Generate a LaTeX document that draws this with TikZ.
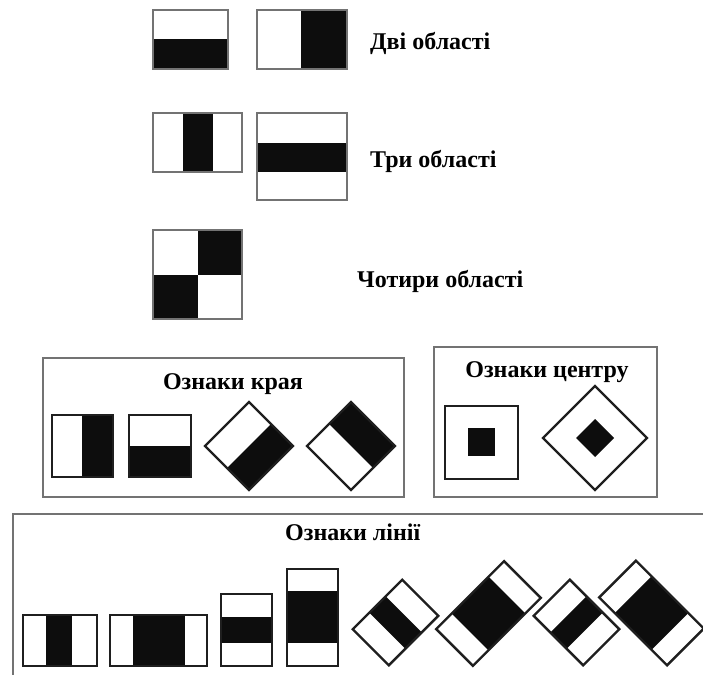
\documentclass[tikz,border=0pt]{standalone}
\usepackage{fontspec}
\setmainfont{Liberation Serif}
\begin{document}
\begin{tikzpicture}[x=1pt,y=-1pt,line join=miter,
  thin box/.style={draw=black!55,line width=1.4pt},
  feat/.style={draw=black!88,line width=2.4pt},
  frame/.style={draw=black!55,line width=1.4pt},
  blk/.style={fill=black!95},
  lab/.style={font=\fontsize{24}{28}\selectfont\bfseries,inner sep=0pt}]
\useasboundingbox (0,0) rectangle (703,674);
\clip (0,0) rectangle (703,674);
% ---------- row 1
\fill[blk] (153,39) rectangle (228,69);
\draw[thin box] (153,10) rectangle (228,69);
\fill[blk] (301,10) rectangle (347,69);
\draw[thin box] (257,10) rectangle (347,69);
\node[lab,anchor=base west] (two) at (370,50) {Дві області};
% ---------- row 2
\fill[blk] (183,113) rectangle (213,172);
\draw[thin box] (153,113) rectangle (242,172);
\fill[blk] (257,143) rectangle (347,172);
\draw[thin box] (257,113) rectangle (347,200);
\node[lab,anchor=base west] (three) at (370,167) {Три області};
% ---------- row 3
\fill[blk] (198,230) rectangle (242,275);
\fill[blk] (153,275) rectangle (198,319);
\draw[thin box] (153,230) rectangle (242,319);
\node[lab,anchor=base west] (four) at (357,287) {Чотири області};
% ---------- edge features
\draw[frame] (43,358) rectangle (404,497);
\node[lab,anchor=base] (edge) at (233,389) {Ознаки края};
\fill[blk] (82,415) rectangle (113,477);
\draw[feat] (52,415) rectangle (113,477);
\fill[blk] (129,446) rectangle (191,477);
\draw[feat] (129,415) rectangle (191,477);
\fill[blk] (227,468) -- (271,424) -- (293,446) -- (249,490) -- cycle;
\draw[feat] (205,446) -- (249,402) -- (293,446) -- (249,490) -- cycle;
\fill[blk] (329,424) -- (351,402) -- (395,446) -- (373,468) -- cycle;
\draw[feat] (307,446) -- (351,402) -- (395,446) -- (351,490) -- cycle;
% ---------- centre features
\draw[frame] (434,347) rectangle (657,497);
\node[lab,anchor=base] (centre) at (547,377) {Ознаки центру};
\fill[blk] (468,428) rectangle (495,456);
\draw[feat] (445,406) rectangle (518,479);
\fill[blk] (576,438) -- (595,419) -- (614,438) -- (595,457) -- cycle;
\draw[feat] (543,438) -- (595,386) -- (647,438) -- (595,490) -- cycle;
% ---------- line features
\draw[frame] (13,680) -- (13,514) -- (710,514);
\node[lab,anchor=base west] (line) at (285,540) {Ознаки лінії};
\fill[blk] (46,615) rectangle (72,666);
\draw[feat] (23,615) rectangle (97,666);
\fill[blk] (133,615) rectangle (185,666);
\draw[feat] (110,615) rectangle (207,666);
\fill[blk] (221,617) rectangle (272,643);
\draw[feat] (221,594) rectangle (272,666);
\fill[blk] (287,591) rectangle (338,643);
\draw[feat] (287,569) rectangle (338,666);
% rotated (clockwise) short
\begin{scope}[shift={(395.5,622.5)},x={(0.7071pt,-0.7071pt)},y={(-0.7071pt,-0.7071pt)}]
\fill[blk] (-25.5,-11.5) -- (25.5,-11.5) -- (25.5,11.5) -- (-25.5,11.5) -- cycle;
\draw[feat] (-25.5,-35) -- (25.5,-35) -- (25.5,35) -- (-25.5,35) -- cycle;
\end{scope}
% rotated (clockwise) long
\begin{scope}[shift={(488.5,613.5)},x={(0.7071pt,-0.7071pt)},y={(-0.7071pt,-0.7071pt)}]
\fill[blk] (-26,-26) -- (26,-26) -- (26,26) -- (-26,26) -- cycle;
\draw[feat] (-26,-48) -- (26,-48) -- (26,48) -- (-26,48) -- cycle;
\end{scope}
% rotated (counter-clockwise) short
\begin{scope}[shift={(576.5,622.5)},x={(0.7071pt,0.7071pt)},y={(0.7071pt,-0.7071pt)}]
\fill[blk] (-25.5,-11.5) -- (25.5,-11.5) -- (25.5,11.5) -- (-25.5,11.5) -- cycle;
\draw[feat] (-25.5,-35) -- (25.5,-35) -- (25.5,35) -- (-25.5,35) -- cycle;
\end{scope}
% rotated (counter-clockwise) long
\begin{scope}[shift={(651.5,613)},x={(0.7071pt,0.7071pt)},y={(0.7071pt,-0.7071pt)}]
\fill[blk] (-26,-26) -- (26,-26) -- (26,26) -- (-26,26) -- cycle;
\draw[feat] (-26,-48) -- (26,-48) -- (26,48) -- (-26,48) -- cycle;
\end{scope}
\end{tikzpicture}
\end{document}
